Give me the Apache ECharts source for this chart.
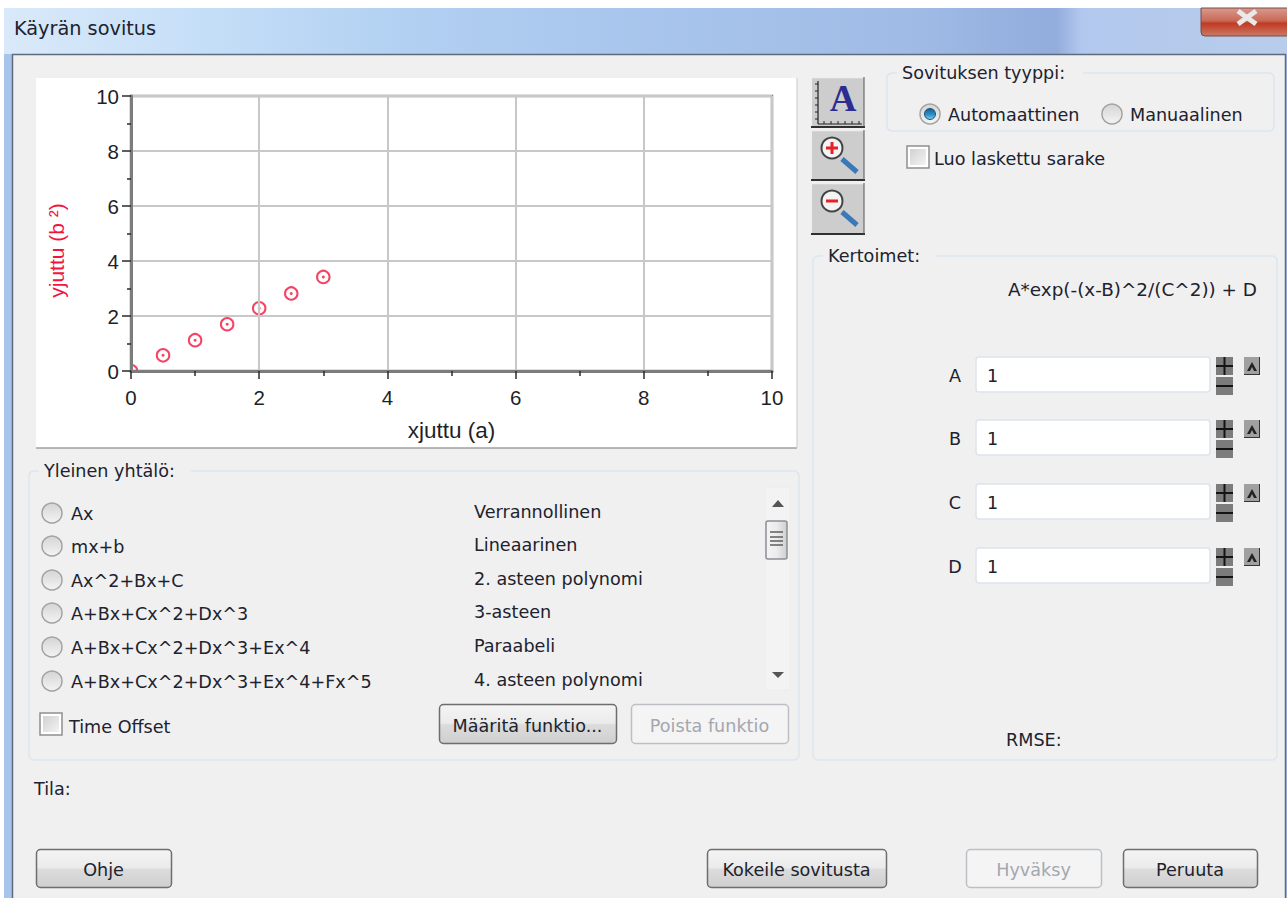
<!DOCTYPE html>
<html><head><meta charset="utf-8">
<style>html,body{margin:0;padding:0;background:#fff;overflow:hidden}#c{width:1287px;height:898px}</style>
<script src="https://cdn.jsdelivr.net/npm/echarts@6/dist/echarts.min.js"></script>
</head><body><div id="c"></div>
<script>
// ---- data ----
const xValues = [0, 0.5, 1, 1.5, 2, 2.5, 3];
const yValues = [0, 0.57, 1.12, 1.7, 2.28, 2.82, 3.42];
const xTitle = 'xjuttu (a)';
const yTitle = 'yjuttu (b ²)';
const equations = ['Ax', 'mx+b', 'Ax^2+Bx+C', 'A+Bx+Cx^2+Dx^3', 'A+Bx+Cx^2+Dx^3+Ex^4', 'A+Bx+Cx^2+Dx^3+Ex^4+Fx^5'];
const equationNames = ['Verrannollinen', 'Lineaarinen', '2. asteen polynomi', '3-asteen', 'Paraabeli', '4. asteen polynomi'];
const coefficients = ['A', 'B', 'C', 'D'];
const coefficientValues = ['1', '1', '1', '1'];

const FONT = '"DejaVu Sans", "Noto Sans", sans-serif';
const INK = '#20222e';
const g = [];
const lin = (stops, x2 = 0, y2 = 1) => ({type: 'linear', x: 0, y: 0, x2, y2,
  colorStops: stops.map(([offset, color]) => ({offset, color}))});
const rect = (x, y, w, h, fill, stroke, r = 0, lw = 1, z = 0) => g.push({type: 'rect', z, silent: true,
  shape: {x, y, width: w, height: h, r}, style: {fill: fill || 'none', stroke: stroke || 'none', lineWidth: lw}});
const line = (x1, y1, x2, y2, stroke, lw = 1, z = 0) => g.push({type: 'line', z, silent: true,
  shape: {x1, y1, x2, y2}, style: {stroke, lineWidth: lw}});
const circ = (cx, cy, r, fill, stroke, lw = 1, z = 0) => g.push({type: 'circle', z, silent: true,
  shape: {cx, cy, r}, style: {fill: fill || 'none', stroke: stroke || 'none', lineWidth: lw}});
const poly = (points, fill, z = 0) => g.push({type: 'polygon', z, silent: true, shape: {points}, style: {fill}});
const txt = (x, y, text, o = {}) => g.push({type: 'text', z: 1, silent: true, x, y: y + 1, style: {text,
  fill: o.fill || INK, font: (o.weight || 'normal') + ' ' + (o.size || 17.6) + 'px ' + (o.family || FONT),
  textAlign: o.align || 'left', textVerticalAlign: 'middle'}});

// window chrome
rect(4, 8, 1283, 46, lin([[0, '#d9e9f9'], [.15, '#c6dff8'], [.3, '#b3d1f2'], [.45, '#aac7ee'], [.7, '#a0bce6'], [.82, '#92acdc'], [.84, '#b2c8ee'], [1, '#b8cdea']], 1, 0));
rect(4, 54, 1283, 844, '#a9c4ea');
rect(12.5, 54.5, 1273, 850, '#f0f0f0', '#5d6b7c', 0, 1.5);
txt(14, 27, 'Käyrän sovitus', {size: 19.3});
rect(1201, 8, 90, 28, lin([[0, '#d89a8c'], [.45, '#c96a58'], [.55, '#c23a22'], [1, '#c87a68']]), '#7a4a44', [0, 0, 4, 4]);
line(1238, 11, 1256, 24, '#e9e9e9', 5); line(1256, 11, 1238, 24, '#e9e9e9', 5);

// chart panel
rect(36, 78, 761, 370, '#fff');
line(36, 448, 797, 448, '#a0a0a0', 1.5);
line(797, 78, 797, 448, '#c8c8c8', 1);

// masks that clip the marker sitting on the plot corner (above series, below axes)
rect(112, 352, 18.5, 34, '#fff', null, 0, 1, 2.5);
rect(112, 372, 50, 14, '#fff', null, 0, 1, 2.5);

// group boxes
function group(x, y, w, h, label, labelW) {
  rect(x, y, w, h, 'none', '#dbe5ee', 5, 1.5);
  rect(x + 10, y - 6, labelW, 12, '#f0f0f0');
  txt(x + 15, y - 1, label);
}
group(29, 471, 770, 289, 'Yleinen yhtälö:', 152);
group(813, 256, 464, 504, 'Kertoimet:', 112);
group(887, 73, 387, 58, 'Sovituksen tyyppi:', 186);

function radio(cx, cy, on) {
  circ(cx, cy, 10, lin([[0, '#d4d4d4'], [1, '#f4f4f4']]), '#a2a2a2', 1.5);
  if (on) circ(cx, cy, 5.5, lin([[0, '#0f5f92'], [.6, '#2f96cf'], [1, '#7fd0f0']]), '#24506e', 1);
}
function check(x, y, s) {
  rect(x, y, s, s, '#fff', '#8e8e8e', 0, 1.5);
  rect(x + 3, y + 3, s - 6, s - 6, lin([[0, '#d2d2d2'], [1, '#f2f2f2']], 1, 1));
}
function button(x, y, w, h, label, on) {
  const c = on ? '#6e6e6e' : '#bcc0c4';
  rect(x + .5, y + .5, w, h, on ? lin([[0, '#f4f4f4'], [.48, '#ebebeb'], [.52, '#dcdcdc'], [1, '#cfcfcf']]) : '#f4f4f4', c, 4, 1.5);
  txt(x + w / 2, y + h / 2 + 1, label, {align: 'center', fill: on ? INK : '#a3a7af'});
}

// fit type
radio(930, 114, true); txt(948, 114, 'Automaattinen');
radio(1112, 114, false); txt(1130, 114, 'Manuaalinen');
check(907, 146, 22); txt(934, 158, 'Luo laskettu sarake');

// equations
equations.forEach((e, i) => {
  const cy = [513, 546, 580, 613, 647, 681][i];
  radio(52, cy, false);
  txt(71, cy, e);
  txt(474, cy - 2, equationNames[i]);
});
check(40, 713, 22); txt(69, 726, 'Time Offset');
button(439, 704, 177, 39, 'Määritä funktio...', true);
button(631, 704, 157, 39, 'Poista funktio', false);

// scrollbar
rect(765, 487, 25, 203, '#f3f3f3', '#ececec');
poly([[772, 507], [784, 507], [778, 500]], '#555');
poly([[772, 672], [784, 672], [778, 678]], '#555');
rect(766, 521, 21, 38, lin([[0, '#f4f4f4'], [.5, '#ececec'], [1, '#cfcfcf']], 1, 0), '#8a8f94', 2, 1.5);
[532, 537, 541, 545].forEach(y => line(770, y, 783, y, '#666', 1.6));

// toolbar
function tool(y, h) {
  rect(812, y, 52, h, '#cdcdcd');
  line(812, y + .5, 864, y + .5, '#efefef', 1.5);
  line(811, y + h, 865, y + h, '#303030', 2);
  line(864, y, 864, y + h, '#555', 1);
}
tool(77, 50); tool(130, 50); tool(183, 51);
line(818, 81, 818, 124, '#222', 1.2); line(818, 124, 862, 124, '#222', 1.2);
[84, 91, 98, 105, 112, 119].forEach(y => line(815, y, 818, y, '#222', 1));
[824, 831, 838, 845, 852, 859].forEach(x => line(x, 121, x, 124, '#222', 1));
txt(843, 97, 'A', {size: 37, weight: 'bold', family: '"Liberation Serif", serif', align: 'center', fill: '#2c2c92'});
function loupe(cy, plus) {
  line(842, cy + 11, 857, cy + 24, '#3a78b8', 5);
  circ(832, cy, 10.5, '#f4f4f4', '#444', 2);
  line(826, cy, 838, cy, '#e8202a', 3);
  if (plus) line(832, cy - 6, 832, cy + 6, '#e8202a', 3);
}
loupe(148, true); loupe(201, false);

// coefficients
txt(1008, 288, 'A*exp(-(x-B)^2/(C^2)) + D', {size: 18.4});
coefficients.forEach((c, i) => {
  const y = [357, 420, 484, 548][i];
  txt(955, y + 18, c, {align: 'center'});
  rect(976, y, 234, 35, '#fff', '#dde3ec', 3, 1.5);
  txt(987, y + 18, coefficientValues[i]);
  rect(1216, y, 17, 18, '#7c7c7c');
  line(1216, y + 9, 1233, y + 9, '#141414', 2); line(1224.5, y, 1224.5, y + 18, '#141414', 2);
  rect(1216, y + 20, 17, 18, '#7c7c7c');
  line(1216, y + 29, 1233, y + 29, '#141414', 2);
  rect(1244, y, 16, 18, '#a0a0a0');
  line(1259.5, y, 1259.5, y + 18, '#333', 1); line(1244, y + 17.5, 1260, y + 17.5, '#333', 1);
  poly([[1247, y + 14], [1252, y + 5], [1257, y + 14], [1254, y + 14], [1252, y + 10], [1250, y + 14]], '#222');
});
txt(1006, 739, 'RMSE:');
txt(34, 788, 'Tila:');

// bottom buttons
button(36, 849, 135, 38, 'Ohje', true);
button(707, 849, 179, 38, 'Kokeile sovitusta', true);
button(966, 849, 135, 38, 'Hyväksy', false);
button(1123, 849, 134, 38, 'Peruuta', true);

const points = xValues.map((x, i) => [x, yValues[i]]);
const RED = '#f2143f';
const AXIS_FONT = {fontFamily: '"Liberation Sans", Arial, sans-serif', fontSize: 20.5, color: '#1f1f28'};

echarts.init(document.getElementById('c'), null, {renderer: 'svg'}).setOption({
  animation: false,
  backgroundColor: '#fff',
  graphic: {elements: g},
  grid: {left: 131, top: 96, width: 641, height: 275, show: true, borderColor: '#808080', borderWidth: 2.5, backgroundColor: 'transparent', z: 3},
  xAxis: {
    type: 'value', min: 0, max: 10, interval: 2, z: 3,
    name: xTitle, nameLocation: 'middle', nameGap: 48,
    nameTextStyle: {...AXIS_FONT, fontSize: 22.5},
    axisLine: {show: true, onZero: false, lineStyle: {color: '#7c7c7c', width: 3}},
    axisTick: {show: true, length: 8, lineStyle: {color: '#2a2a2a', width: 1.5}},
    minorTick: {show: true, splitNumber: 2, length: 5, lineStyle: {color: '#2a2a2a', width: 1.5}},
    splitLine: {show: true, lineStyle: {color: '#c8c8c8', width: 2}},
    axisLabel: {...AXIS_FONT, margin: 16}
  },
  yAxis: {
    type: 'value', min: 0, max: 10, interval: 2, z: 3,
    name: yTitle, nameLocation: 'middle', nameGap: 64, nameRotate: 90,
    nameTextStyle: {...AXIS_FONT, fontSize: 21, color: RED, padding: [0, 34, 0, 0]},
    axisLine: {show: true, onZero: false, lineStyle: {color: '#7c7c7c', width: 3}},
    axisTick: {show: true, length: 9, lineStyle: {color: '#2a2a2a', width: 1.5}},
    minorTick: {show: true, splitNumber: 2, length: 4, lineStyle: {color: '#2a2a2a', width: 1.5}},
    splitLine: {show: true, lineStyle: {color: '#c8c8c8', width: 2}},
    axisLabel: {...AXIS_FONT, margin: 12}
  },
  series: [
    {type: 'scatter', z: 2, clip: false, data: points, symbol: 'circle', symbolSize: 12.5,
     itemStyle: {color: 'transparent', borderColor: RED, borderWidth: 2}, silent: true},
    {type: 'scatter', z: 2, clip: false, data: points, symbol: 'circle', symbolSize: 3,
     itemStyle: {color: RED}, silent: true}
  ]
});
</script></body></html>
